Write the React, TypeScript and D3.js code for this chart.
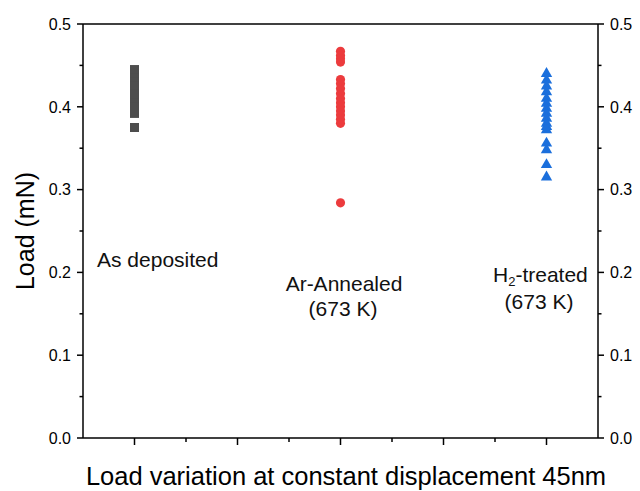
import React, { useEffect, useRef } from "react";
import * as d3 from "d3";

// Load values (mN)
const asDeposited = [0.445, 0.44, 0.435, 0.43, 0.425, 0.42, 0.415, 0.41, 0.405, 0.4, 0.395, 0.392, 0.375];
const arAnnealed = [0.467, 0.462, 0.458, 0.454, 0.433, 0.428, 0.422, 0.416, 0.41, 0.405, 0.4, 0.395, 0.39, 0.385, 0.38, 0.284];
const h2Treated = [0.44, 0.432, 0.425, 0.418, 0.41, 0.404, 0.398, 0.392, 0.386, 0.38, 0.376, 0.372, 0.356, 0.348, 0.33, 0.315];

// x positions of the three groups
const groupX = [1, 3, 5];
const yTicks = [0, 0.1, 0.2, 0.3, 0.4, 0.5];
const yMinor = [0.05, 0.15, 0.25, 0.35, 0.45];
const xTicks = [1, 2, 3, 4, 5];
const xMinor = [1.5, 2.5, 3.5, 4.5];

const FONT = "Arial, 'Liberation Sans', sans-serif";

const App = () => {
  const ref = useRef<SVGSVGElement | null>(null);

  useEffect(() => {
    const svg = d3.select(ref.current);
    svg.selectAll("*").remove();

    const left = 83, right = 598, top = 24, bottom = 438;
    const x = d3.scaleLinear().domain([0.5, 5.5]).range([left, right]);
    const y = d3.scaleLinear().domain([0, 0.5]).range([bottom, top]);

    const axes = svg.append("g").attr("stroke", "#000").attr("stroke-width", 1.5);

    // frame
    axes.append("line").attr("x1", left).attr("x2", right).attr("y1", top).attr("y2", top);
    axes.append("line").attr("x1", left).attr("x2", right).attr("y1", bottom).attr("y2", bottom);
    axes.append("line").attr("x1", left).attr("x2", left).attr("y1", top).attr("y2", bottom);
    axes.append("line").attr("x1", right).attr("x2", right).attr("y1", top).attr("y2", bottom);

    // left + right ticks (outward)
    const yt = (vals: number[], len: number) => {
      axes.append("g").selectAll("line").data(vals).join("line")
        .attr("x1", left - len).attr("x2", left)
        .attr("y1", (d) => y(d)).attr("y2", (d) => y(d));
      axes.append("g").selectAll("line").data(vals).join("line")
        .attr("x1", right).attr("x2", right + len)
        .attr("y1", (d) => y(d)).attr("y2", (d) => y(d));
    };
    yt(yTicks, 6);
    yt(yMinor, 3.5);

    // bottom ticks
    axes.append("g").selectAll("line").data(xTicks).join("line")
      .attr("x1", (d) => x(d)).attr("x2", (d) => x(d))
      .attr("y1", bottom).attr("y2", bottom + 7);
    axes.append("g").selectAll("line").data(xMinor).join("line")
      .attr("x1", (d) => x(d)).attr("x2", (d) => x(d))
      .attr("y1", bottom).attr("y2", bottom + 4);

    // tick labels
    const fmt = d3.format(".1f");
    svg.append("g").attr("font-family", FONT).attr("font-size", 16).attr("text-anchor", "end")
      .selectAll("text").data(yTicks).join("text")
      .attr("x", left - 12).attr("y", (d) => y(d)).attr("dy", "0.36em").text(fmt);
    svg.append("g").attr("font-family", FONT).attr("font-size", 16).attr("text-anchor", "start")
      .selectAll("text").data(yTicks).join("text")
      .attr("x", right + 12).attr("y", (d) => y(d)).attr("dy", "0.36em").text(fmt);

    // axis titles
    svg.append("text")
      .attr("font-family", FONT).attr("font-size", 25).attr("text-anchor", "middle")
      .attr("transform", `translate(34,${(top + bottom) / 2}) rotate(-90)`)
      .text("Load (mN)");
    svg.append("text")
      .attr("font-family", FONT).attr("font-size", 25.5).attr("text-anchor", "middle")
      .attr("x", 346).attr("y", 485)
      .text("Load variation at constant displacement 45nm");

    // markers
    const sq = d3.symbol().type(d3.symbolSquare).size(81);
    const ci = d3.symbol().type(d3.symbolCircle).size(66);
    const tri = d3.symbol().type(d3.symbolTriangle).size(56);

    svg.append("g").selectAll("path").data(asDeposited).join("path")
      .attr("d", sq).attr("fill", "#4d4d4d")
      .attr("transform", (d) => `translate(${x(groupX[0])},${y(d)})`);
    svg.append("g").selectAll("path").data(arAnnealed).join("path")
      .attr("d", ci).attr("fill", "#ec3b3d")
      .attr("transform", (d) => `translate(${x(groupX[1])},${y(d)})`);
    svg.append("g").selectAll("path").data(h2Treated).join("path")
      .attr("d", tri).attr("fill", "#1b6fdc")
      .attr("transform", (d) => `translate(${x(groupX[2])},${y(d)})`);

    // group labels
    const lab = svg.append("g").attr("font-family", FONT).attr("font-size", 21).attr("fill", "#111");
    lab.append("text").attr("x", 97).attr("y", 267).text("As deposited");
    lab.append("text").attr("x", 344).attr("y", 291).attr("text-anchor", "middle").text("Ar-Annealed");
    lab.append("text").attr("x", 343).attr("y", 316).attr("text-anchor", "middle").text("(673 K)");
    const h2 = lab.append("text").attr("x", 493).attr("y", 282);
    h2.append("tspan").text("H");
    h2.append("tspan").attr("font-size", 13).attr("dy", 4).text("2");
    h2.append("tspan").attr("dy", -4).text("-treated");
    lab.append("text").attr("x", 539).attr("y", 309).attr("text-anchor", "middle").text("(673 K)");
  }, []);

  return (
    <svg
      ref={ref}
      width={640}
      height={491}
      style={{ position: "absolute", left: 0, top: 0, background: "#fff" }}
    />
  );
};

export default App;
